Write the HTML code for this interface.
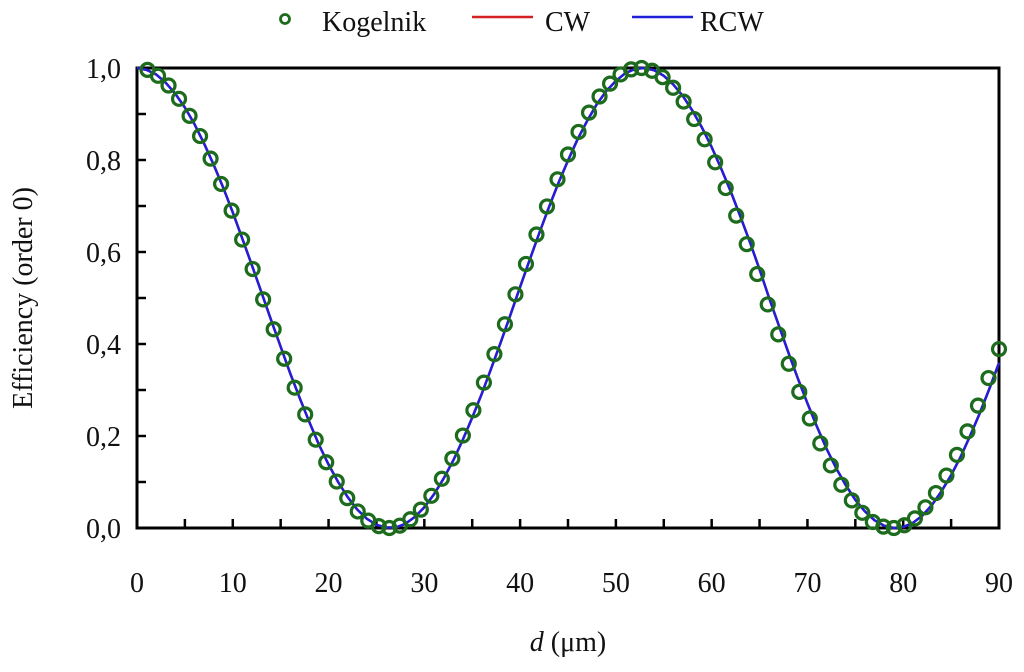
<!DOCTYPE html>
<html><head><meta charset="utf-8"><style>
html,body{margin:0;padding:0;background:#fff;}
svg{display:block;font-family:"Liberation Serif",serif;}
</style></head><body>
<svg id="chart" width="1024" height="672" viewBox="0 0 1024 672" xmlns="http://www.w3.org/2000/svg">
<g id="legend">
 <g>
  <circle cx="285" cy="19" r="4.5" fill="none" stroke="#1d6b1d" stroke-width="2.8"/>
  <text x="322" y="31" font-size="28" fill="#111">Kogelnik</text>
 </g>
 <g>
  <line x1="472" y1="17" x2="533" y2="17" stroke="#d42020" stroke-width="2.5"/>
  <text x="545" y="31" font-size="28" fill="#111">CW</text>
 </g>
 <g>
  <line x1="632" y1="17" x2="693" y2="17" stroke="#2020d8" stroke-width="2.5"/>
  <text x="700" y="31" font-size="28" fill="#111">RCW</text>
 </g>
</g>
<g id="axes"></g>
<g id="series"></g>
<text x="568" y="651" font-size="28" text-anchor="middle" fill="#111"><tspan font-style="italic">d</tspan> (μm)</text>
<text transform="translate(32,298) rotate(-90)" font-size="28" text-anchor="middle" fill="#111">Efficiency (order 0)</text>
</svg>
<script>
const xTicks=[0,10,20,30,40,50,60,70,80,90];
const yTicks=[0,0.2,0.4,0.6,0.8,1.0];
const yTickLabels=["0,0","0,2","0,4","0,6","0,8","1,0"];
const kogelnikD=[];for(let k=1;k<=82;k++)kogelnikD.push(90*k/82);
const kogelnikEff=[.996,.983,.962,.933,.896,.852,.803,.748,.690,.627,.563,.497,.432,.368,.305,.247,.192,.143,.101,.065,.036,.016,.004,.000,.005,.019,.040,.070,.107,.151,.201,.256,.316,.378,.443,.508,.574,.638,.699,.758,.812,.861,.903,.938,.966,.986,.997,1.000,.994,.980,.957,.927,.889,.845,.795,.739,.679,.617,.552,.486,.421,.357,.296,.238,.184,.136,.094,.060,.033,.013,.003,.000,.006,.021,.045,.076,.114,.159,.210,.266,.326,.389];
const lineD=[];for(let d=0;d<=90;d++)lineD.push(d);
const cwEff=[1.000,.996,.986,.968,.944,.914,.878,.836,.790,.740,.686,.629,.571,.512,.452,.394,.336,.282,.230,.181,.138,.100,.067,.040,.020,.007,.001,.001,.009,.024,.045,.073,.107,.146,.191,.240,.292,.348,.405,.464,.524,.583,.641,.697,.750,.799,.845,.885,.921,.950,.972,.989,.998,1.000,.995,.983,.964,.939,.907,.870,.828,.781,.731,.677,.621,.562,.500,.441,.382,.325,.271,.220,.172,.130,.093,.061,.036,.017,.005,.000,.002,.011,.027,.050,.080,.115,.155,.201,.250,.303,.359];
const rcwEff=[1.000,.996,.986,.968,.944,.914,.878,.836,.790,.740,.686,.629,.571,.512,.452,.394,.336,.282,.230,.181,.138,.100,.067,.040,.020,.007,.001,.001,.009,.024,.045,.073,.107,.146,.191,.240,.292,.348,.405,.464,.524,.583,.641,.697,.750,.799,.845,.885,.921,.950,.972,.989,.998,1.000,.995,.983,.964,.939,.907,.870,.828,.781,.731,.677,.621,.562,.500,.441,.382,.325,.271,.220,.172,.130,.093,.061,.036,.017,.005,.000,.002,.011,.027,.050,.080,.115,.155,.201,.250,.303,.359];

const NS="http://www.w3.org/2000/svg";
const X0=137,X1=999,Y0=528,Y1=68;
const sx=d=>X0+(d-0)/(90-0)*(X1-X0);
const sy=v=>Y0-(v-0)/(1-0)*(Y0-Y1);
function mk(tag,attrs,parent){const e=document.createElementNS(NS,tag);for(const k in attrs)e.setAttribute(k,attrs[k]);parent.appendChild(e);return e;}
const axes=document.getElementById('axes');
const series=document.getElementById('series');

for(let v=0;v<=90.001;v+=5){const t=mk('line',{x1:sx(v),x2:sx(v),y1:Y0,y2:Y0-9,stroke:'#000','stroke-width':2.5},axes);

}
for(let v=0;v<=1.0001;v+=0.1){const t=mk('line',{x1:X0,x2:X0+9,y1:sy(v),y2:sy(v),stroke:'#000','stroke-width':2.5},axes);

}
xTicks.forEach(v=>{const t=mk('text',{x:sx(v),y:592,'font-size':28,'text-anchor':'middle',fill:'#111'},axes);t.textContent=v;

});
yTicks.forEach((v,i)=>{const t=mk('text',{x:121,y:sy(v)+10,'font-size':28,'text-anchor':'end',fill:'#111'},axes);t.textContent=yTickLabels[i];

});
const frame=mk('rect',{x:X0,y:Y1,width:X1-X0,height:Y0-Y1,fill:'none',stroke:'#000','stroke-width':3},axes);



function pathOf(xs,ys){return xs.map((d,i)=>(i?'L':'M')+sx(d).toFixed(2)+','+sy(ys[i]).toFixed(2)).join(' ');}
const cw=mk('path',{d:pathOf(lineD,cwEff),fill:'none',stroke:'#d42020','stroke-width':2.5},series);


const rcw=mk('path',{d:pathOf(lineD,rcwEff),fill:'none',stroke:'#2020d8','stroke-width':2.5},series);


kogelnikD.forEach((d,i)=>{const c=mk('circle',{cx:sx(d),cy:sy(kogelnikEff[i]),r:6.5,fill:'none',stroke:'#1d6b1d','stroke-width':3.2},series);

});
</script>
</body></html>
